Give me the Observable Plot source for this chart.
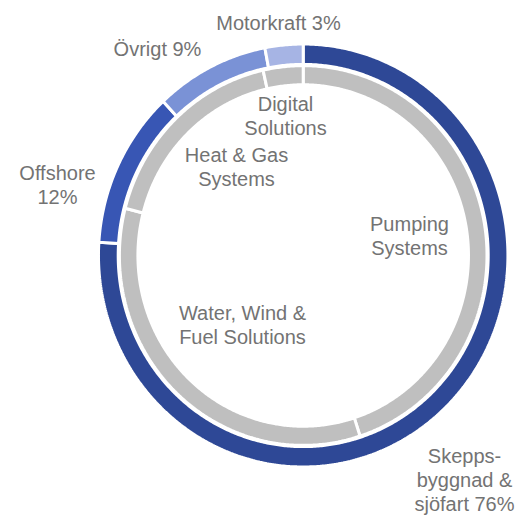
<!DOCTYPE html>
<html>
<head>
<meta charset="utf-8">
<script src="https://cdn.jsdelivr.net/npm/d3@7"></script>
<script src="https://cdn.jsdelivr.net/npm/@observablehq/plot@0.6"></script>
<style>
  html, body { margin: 0; padding: 0; background: #fff; }
  #chart svg { display: block; }
</style>
</head>
<body>
<div id="chart"></div>
<script>
// ---- Data ----
const outerCategories = ["Skeppsbyggnad & sjöfart", "Offshore", "Övrigt", "Motorkraft"];
const outerValues = [76, 12, 9, 3];
const outerLabels = ["Skepps-\nbyggnad &\nsjöfart 76%", "Offshore\n12%", "Övrigt 9%", "Motorkraft 3%"];

const innerCategories = ["Pumping Systems", "Water, Wind & Fuel Solutions", "Heat & Gas Systems", "Digital Solutions"];
const innerValues = [45, 34, 17.5, 3.5];
const innerLabels = ["Pumping\nSystems", "Water, Wind &\nFuel Solutions", "Heat & Gas\nSystems", "Digital\nSolutions"];

// ---- Styles / layout ----
const outerColors = ["#2E4896", "#3856B4", "#7A92D6", "#A6B4E4"];
const innerColor = "#BFBFBF";
const textColor = "#737373";
const ringOuter = [0.910, 1.007];   // radii (units of outer radius), incl. half stroke
const ringInner = [0.813, 0.904];
// label anchor positions in pixels (x centre, baseline of last line)
const outerLabelPos = [[464, 510], [57, 203], [157, 55], [278, 29]];
const innerLabelPos = [[409, 254], [242, 343], [236, 185], [285, 134]];

const W = 523, H = 515;
const cx = 302.7, cy = 255, rx = 203.3, ry = 210;

function segments(cats, vals, colors, radii) {
  const total = d3.sum(vals);
  const pts = [];
  let acc = 0;
  cats.forEach((c, i) => {
    const a0 = acc / total * 2 * Math.PI;
    acc += vals[i];
    const a1 = acc / total * 2 * Math.PI;
    const n = Math.max(4, Math.ceil((a1 - a0) / (Math.PI / 360)));
    const col = Array.isArray(colors) ? colors[i] : colors;
    for (let k = 0; k <= n; k++) {
      const t = a0 + (a1 - a0) * k / n;
      pts.push({id: c, x: radii[1] * Math.sin(t), y: radii[1] * Math.cos(t), color: col});
    }
    for (let k = n; k >= 0; k--) {
      const t = a0 + (a1 - a0) * k / n;
      pts.push({id: c, x: radii[0] * Math.sin(t), y: radii[0] * Math.cos(t), color: col});
    }
  });
  return pts;
}

const outerPts = segments(outerCategories, outerValues, outerColors, ringOuter);
const innerPts = segments(innerCategories, innerValues, innerColor, ringInner);

const toUnit = ([px, py]) => ({x: (px - cx) / rx, y: (cy - py) / ry});
const labels = [
  ...outerLabels.map((t, i) => ({text: t, ...toUnit(outerLabelPos[i])})),
  ...innerLabels.map((t, i) => ({text: t, ...toUnit(innerLabelPos[i])}))
];

const chart = Plot.plot({
  width: W,
  height: H,
  margin: 0,
  x: {domain: [-1, 1], range: [cx - rx, cx + rx], axis: null},
  y: {domain: [-1, 1], range: [cy + ry, cy - ry], axis: null},
  color: {type: "identity"},
  style: {background: "#fff", fontFamily: "'Liberation Sans', Arial, sans-serif"},
  marks: [
    Plot.line(innerPts, {x: "x", y: "y", z: "id", fill: "color", stroke: "white", strokeWidth: 3, curve: "linear-closed", strokeLinejoin: "miter"}),
    Plot.line(outerPts, {x: "x", y: "y", z: "id", fill: "color", stroke: "white", strokeWidth: 3, curve: "linear-closed", strokeLinejoin: "miter"}),
    Plot.text(labels, {x: "x", y: "y", text: "text", fill: textColor, fontSize: 20, lineHeight: 1.2, lineAnchor: "bottom", textAnchor: "middle"})
  ]
});
document.getElementById("chart").appendChild(chart);
</script>
</body>
</html>
